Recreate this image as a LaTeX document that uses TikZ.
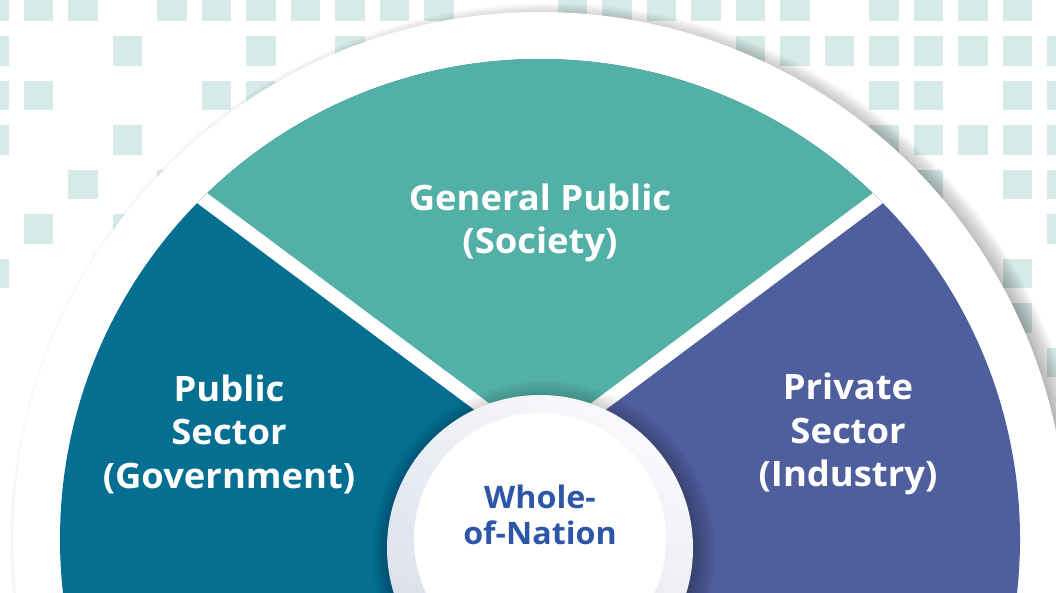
\documentclass[tikz,border=0pt]{standalone}
\usepackage{fontspec}
\IfFontExistsTF{Open Sans Bold}
  {\newfontfamily\lblfont{Open Sans}[BoldFont={Open Sans Bold},BoldFeatures={FakeStretch=1.04}]}
  {\newfontfamily\lblfont{Liberation Sans}}
\definecolor{cTeal}{RGB}{82,176,166}
\definecolor{cBlue}{RGB}{4,111,144}
\definecolor{cPurple}{RGB}{79,95,157}
\definecolor{cSq}{RGB}{214,234,232}
\definecolor{cText}{RGB}{46,86,168}
\definecolor{cRingA}{RGB}{248,249,251}
\definecolor{cRingB}{RGB}{218,222,234}
\tikzset{
  sq/.style={fill=cSq},
  divider/.style={draw=white,line width=14pt},
  biglabel/.style={text=white,align=center,inner sep=0pt,font=\lblfont\bfseries\fontsize{35}{43.5}\selectfont},
  centerlabel/.style={text=cText,align=center,inner sep=0pt,font=\lblfont\bfseries\fontsize{31}{36}\selectfont}
}
\begin{document}
\begin{tikzpicture}[x=1pt,y=-1pt]
\useasboundingbox (0,0) rectangle (1056,592);
\clip (0,0) rectangle (1056,592);
% background squares
\foreach \i/\j in {0/0,1/0,2/0,4/0,5/0,6/0,7/0,8/0,9/0,10/0,13/0,14/0,15/0,16/0,17/0,18/0,20/0,21/0,22/0,23/0,
  0/1,3/1,6/1,8/1,17/1,18/1,19/1,20/1,21/1,22/1,23/1,24/1,
  0/2,1/2,5/2,6/2,20/2,21/2,23/2,24/2,
  0/3,3/3,20/3,21/3,22/3,23/3,24/3,
  2/4,4/4,21/4,23/4,24/4,
  1/5,3/5,24/5,
  0/6,23/6,
  23/7,24/8}
  \fill[sq] ({-21+44.5*\i},{-8.5+44.5*\j}) rectangle +(29.5,29.5);
% shadow of the big white disc
\foreach \k in {0,...,25}
  \fill[black,opacity=0.014] (550,543) circle ({515pt+\k pt});
\fill[white] (540,539) circle (527pt);
% coloured sectors
\begin{scope}
  \clip (540,539) circle (480pt);
  \fill[cBlue] (0,0) rectangle (540,1100);
  \fill[cPurple] (540,0) rectangle (1100,1100);
  \fill[cTeal] (540,450) -- (-136,-54) -- (-136,-200) -- (1216,-200) -- (1216,-54) -- cycle;
  \coordinate (apex) at (540,450);
  \coordinate (endL) at (-136,-54);
  \coordinate (endR) at (1216,-54);
  \draw[divider] (apex) -- (endL);
  \draw[divider] (apex) -- (endR);
  % soft shadow of the centre disc
  \foreach \k in {0,...,24}
    \fill[black,opacity=0.012] (544,553) circle ({148pt+\k pt});
\end{scope}
% centre disc
\shade[top color=cRingA,bottom color=cRingB,shading angle=-35] (540,548) circle (153pt);
\fill[white] (540,539) circle (126pt);
% labels
\node[biglabel] (society) at (540,223) {General Public\\(Society)};
\node[biglabel] (gov) at (229,434) {Public\\Sector\\(Government)};
\node[biglabel] (ind) at (848,434) {Private\\Sector\\(Industry)};
\node[centerlabel] (won) at (540,515) {Whole-\\of-Nation};
\end{tikzpicture}
\end{document}
